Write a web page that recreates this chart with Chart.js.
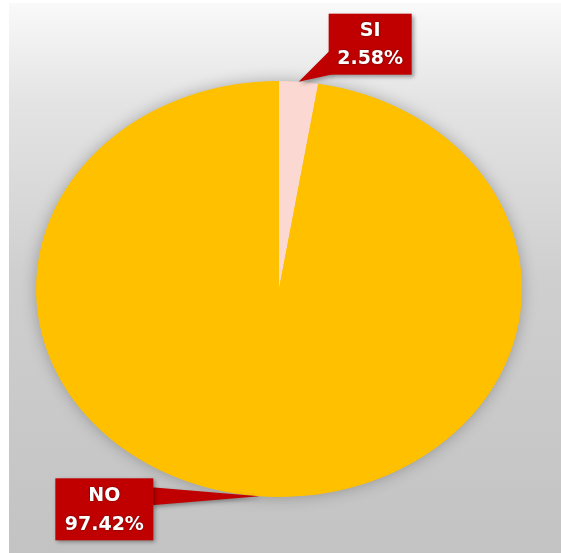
<!DOCTYPE html>
<html>
<head>
<meta charset="utf-8">
<script src="https://cdn.jsdelivr.net/npm/chart.js@4.4.0/dist/chart.umd.min.js"></script>
<style>
  html, body { margin: 0; padding: 0; background: #ffffff; }
  #wrap { width: 561px; height: 553px; position: relative; }
</style>
</head>
<body>
<div id="wrap"><canvas id="c" width="561" height="553"></canvas></div>
<script>
// ---- data ----
const categories = ['SI', 'NO'];
const values = [2.58, 97.42];
const valueLabels = ['2.58%', '97.42%'];
const sliceColors = ['#FBD8D2', '#FFC000'];

// ---- styling / layout ----
const X_STRETCH = 1.168;           // pie drawn as an ellipse (wider than tall)
const LABEL_FONT = 'bold 19px "DejaVu Sans", Verdana, sans-serif';
const LABEL_BG = '#C00000';
// callout boxes relative to the slice anchor point
const callouts = [
  { dx: 30, dy: -68, w: 83, h: 61, side: 'left' },    // SI
  { dx: -204, dy: -18, w: 98, h: 62, side: 'right' }  // NO
];

const piePlugin = {
  id: 'piePlugin',
  beforeDraw(chart) {
    const ctx = chart.ctx, W = chart.width, H = chart.height;
    ctx.save();
    ctx.fillStyle = '#ffffff';
    ctx.fillRect(0, 0, W, H);
    const g = ctx.createLinearGradient(0, 0, 0, H);
    g.addColorStop(0, '#FAFAFA');
    g.addColorStop(0.18, '#E4E4E4');
    g.addColorStop(0.5, '#CFCFCF');
    g.addColorStop(1, '#C3C3C3');
    ctx.fillStyle = g;
    ctx.fillRect(9, 3, W - 9, H - 3);
    ctx.restore();
  },
  beforeDatasetsDraw(chart) {
    const ctx = chart.ctx;
    const a = chart.getDatasetMeta(0).data[0];
    ctx.save();
    ctx.translate(a.x, a.y);
    ctx.scale(X_STRETCH, 1);
    ctx.translate(-a.x, -a.y);
    // soft shadow under the whole pie
    ctx.save();
    ctx.shadowColor = 'rgba(0,0,0,0.28)';
    ctx.shadowBlur = 16;
    ctx.fillStyle = sliceColors[1];
    ctx.beginPath();
    ctx.arc(a.x, a.y, a.outerRadius - 0.5, 0, Math.PI * 2);
    ctx.fill();
    ctx.restore();
  },
  afterDatasetsDraw(chart) {
    chart.ctx.restore();
  },
  afterDraw(chart) {
    const ctx = chart.ctx;
    const arcs = chart.getDatasetMeta(0).data;
    arcs.forEach((arc, i) => {
      const mid = (arc.startAngle + arc.endAngle) / 2;
      const tx = arc.x + Math.cos(mid) * arc.outerRadius * X_STRETCH;
      const ty = arc.y + Math.sin(mid) * arc.outerRadius;
      const c = callouts[i];
      const bx = tx + c.dx, by = ty + c.dy;
      ctx.save();
      ctx.shadowColor = 'rgba(0,0,0,0.35)';
      ctx.shadowBlur = 4;
      ctx.shadowOffsetX = 2;
      ctx.shadowOffsetY = 2;
      ctx.fillStyle = LABEL_BG;
      ctx.beginPath();
      if (c.side === 'left') {
        ctx.moveTo(tx, ty);
        ctx.lineTo(bx + 2, by + 36);
        ctx.lineTo(bx + 2, by + c.h);
        ctx.closePath();
      } else {
        ctx.moveTo(tx, ty);
        ctx.lineTo(bx + c.w - 2, by + 9);
        ctx.lineTo(bx + c.w - 2, by + 27);
        ctx.closePath();
      }
      ctx.fill();
      ctx.fillRect(bx, by, c.w, c.h);
      ctx.restore();

      ctx.save();
      ctx.font = LABEL_FONT;
      ctx.textAlign = 'center';
      ctx.textBaseline = 'middle';
      ctx.fillStyle = '#ffffff';
      ctx.shadowColor = 'rgba(60,0,0,0.8)';
      ctx.shadowBlur = 2;
      const cx = bx + c.w / 2;
      ctx.fillText(categories[i], cx, by + c.h * 0.29);
      ctx.fillText(valueLabels[i], cx, by + c.h * 0.75);
      ctx.restore();
    });
  }
};

new Chart(document.getElementById('c'), {
  type: 'pie',
  data: {
    labels: categories,
    datasets: [{
      data: values,
      backgroundColor: sliceColors,
      borderWidth: 0
    }]
  },
  options: {
    responsive: false,
    animation: false,
    layout: { padding: { top: 81, bottom: 56, left: 71, right: 74 } },
    plugins: {
      legend: { display: false },
      tooltip: { enabled: false },
      title: { display: false }
    }
  },
  plugins: [piePlugin]
});
</script>
</body>
</html>
